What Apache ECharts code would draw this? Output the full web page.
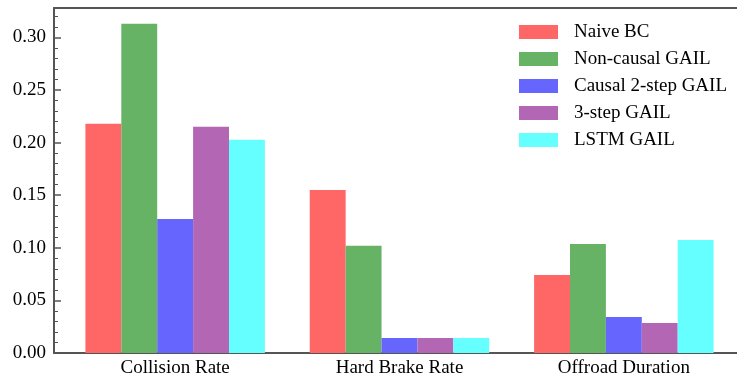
<!DOCTYPE html>
<html>
<head>
<meta charset="utf-8">
<script src="https://cdn.jsdelivr.net/npm/echarts@6/dist/echarts.min.js"></script>
<style>html,body{margin:0;padding:0;background:#fff;overflow:hidden}#chart{width:737px;height:383px;overflow:hidden}</style>
</head>
<body>
<div id="chart"></div>
<script>
const categories = ['Collision Rate', 'Hard Brake Rate', 'Offroad Duration'];
const seriesNames = ['Naive BC', 'Non-causal GAIL', 'Causal 2-step GAIL', '3-step GAIL', 'LSTM GAIL'];
const naiveBC = [0.218, 0.155, 0.0742];
const nonCausalGAIL = [0.313, 0.102, 0.1037];
const causal2StepGAIL = [0.1275, 0.0143, 0.0343];
const threeStepGAIL = [0.215, 0.0143, 0.0285];
const lstmGAIL = [0.2027, 0.0143, 0.1075];
const yTicks = [0, 0.05, 0.10, 0.15, 0.20, 0.25, 0.30];

const values = [naiveBC, nonCausalGAIL, causal2StepGAIL, threeStepGAIL, lstmGAIL];
const colors = ['#ff6666', '#66b366', '#6666ff', '#b366b3', '#66ffff'];
const FONT = 'Liberation Serif';
const axisColor = '#555';

const chart = echarts.init(document.getElementById('chart'), null, {renderer: 'canvas'});
chart.setOption({
  animation: false,
  backgroundColor: '#fff',
  grid: {left: 54, width: 691, top: 8, bottom: 30, containLabel: false, outerBoundsMode: 'none', show: false},
  legend: {
    orient: 'vertical', left: 519, top: 22, padding: 0,
    itemWidth: 39, itemHeight: 14, itemGap: 7,
    icon: 'rect',
    textStyle: {fontFamily: FONT, fontSize: 19, color: '#000', lineHeight: 20, padding: [0, 0, 0, 11]},
    data: seriesNames
  },
  xAxis: [{
    type: 'value', min: -0.54, max: 2.54,
    axisLine: {show: true, onZero: false, lineStyle: {color: axisColor, width: 2}},
    axisTick: {show: false},
    splitLine: {show: false},
    axisLabel: {
      customValues: categories.map((c, i) => i),
      formatter: v => categories[Math.round(v)] || '',
      fontFamily: FONT, fontSize: 19, color: '#000', margin: 6
    }
  }, {
    type: 'value', min: -0.54, max: 2.54, position: 'top',
    axisLine: {show: true, onZero: false, lineStyle: {color: axisColor, width: 2}},
    axisTick: {show: false}, axisLabel: {show: false}, splitLine: {show: false}
  }],
  yAxis: {
    type: 'value', min: 0, max: 0.328, interval: 0.05, position: 'left',
    axisLine: {show: true, onZero: false, lineStyle: {color: axisColor, width: 2}},
    axisTick: {show: true, inside: true, length: 7, lineStyle: {color: axisColor, width: 1.5}},
    minorTick: {show: true, splitNumber: 5, length: 4, lineStyle: {color: axisColor, width: 1}},
    splitLine: {show: false},
    minorSplitLine: {show: false},
    axisLabel: {
      showMaxLabel: false,
      formatter: v => yTicks.some(t => Math.abs(t - v) < 1e-9) ? v.toFixed(2) : '',
      fontFamily: FONT, fontSize: 19, color: '#000', margin: 8
    }
  },
  series: seriesNames.map((name, s) => ({
    name: name, type: 'bar',
    xAxisIndex: 0,
    barGap: '0%', barCategoryGap: '20%',
    itemStyle: {color: colors[s]},
    data: values[s].map((v, i) => [i, v])
  }))
});
</script>
</body>
</html>
